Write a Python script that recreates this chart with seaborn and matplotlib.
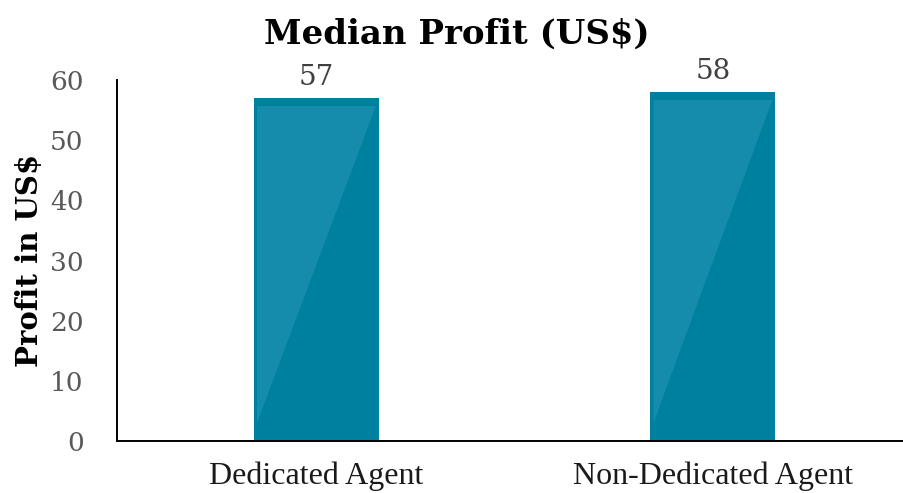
import matplotlib
matplotlib.use("Agg")
import pandas as pd
import seaborn as sns
import matplotlib.pyplot as plt
from matplotlib.patches import Polygon

categories = ["Dedicated Agent", "Non-Dedicated Agent"]
profits = [57, 58]
yticks = [0, 10, 20, 30, 40, 50, 60]

df = pd.DataFrame({"agent": categories, "profit": profits})

sns.set_style("white")
plt.rcParams["font.family"] = ["DejaVu Serif"]

fig = plt.figure(figsize=(9.04, 4.93), dpi=100)
ax = fig.add_axes([0.1294, 0.1055, 0.8706, 0.7322])

dark = "#00809f"
light = "#158cab"

sns.barplot(data=df, x="agent", y="profit", color=dark, saturation=1,
            width=0.315, ax=ax)

xlim = (-0.503, 1.482)
ylim = (0, 60)
ax.set_xlim(*xlim)
ax.set_ylim(*ylim)

# pixel -> data conversions for the glossy inner shape
bbox = ax.get_window_extent()
px_x = (xlim[1] - xlim[0]) / bbox.width
px_y = (ylim[1] - ylim[0]) / bbox.height

for bar, val in zip(ax.patches, profits):
    bar.set_edgecolor("none")
    x0 = bar.get_x()
    x1 = x0 + bar.get_width()
    top = bar.get_height()
    inset = 3 * px_x
    poly = Polygon([
        (x0 + inset, top - 8 * px_y),
        (x1 - inset, top - 8 * px_y),
        (x0 + inset, 18 * px_y),
    ], closed=True, facecolor=light, edgecolor="none", zorder=bar.get_zorder() + 0.1)
    ax.add_patch(poly)
    ax.text(x0 + bar.get_width() / 2, top + 1.2, f"{val}", ha="center", va="bottom",
            fontsize=20, color="#404040", family="DejaVu Serif")

ax.set_yticks(yticks)
ax.set_yticklabels([str(t) for t in yticks], fontsize=19, color="#595959")
ax.tick_params(axis="y", length=0, pad=24)
ax.tick_params(axis="x", length=0, pad=15)
for lab in ax.get_xticklabels():
    lab.set_family("Liberation Serif")
    lab.set_fontsize(23)
    lab.set_color("#1a1a1a")

ax.set_xlabel("")
ax.set_ylabel("Profit in US$", fontsize=21, fontweight="bold", color="black", labelpad=4)
ax.set_title("Median Profit (US$)", fontsize=24.5, fontweight="bold", color="black",
             pad=26, x=0.432)

for side in ["top", "right"]:
    ax.spines[side].set_visible(False)
for side in ["left", "bottom"]:
    ax.spines[side].set_color("black")
    ax.spines[side].set_linewidth(1.4)

fig.savefig("out.png", dpi=100)
